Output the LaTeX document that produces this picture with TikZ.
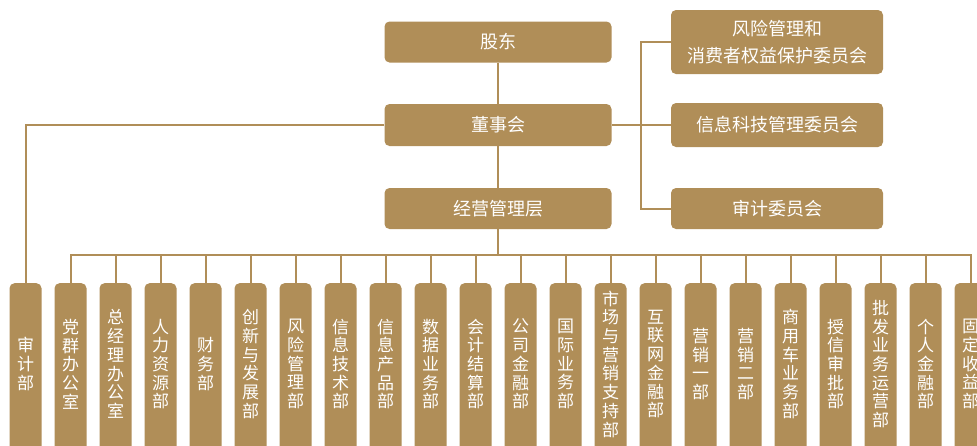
\documentclass[tikz,border=0pt]{standalone}
\usepackage{fontspec}
\newfontfamily\cjk{Noto Sans CJK SC}
\definecolor{gold}{RGB}{176,142,88}
\begin{document}
\begin{tikzpicture}[x=1pt,y=-1pt,
  box/.style={fill=gold, rounded corners=5pt, text=white, font=\cjk\fontsize{18}{27}\selectfont, align=center, inner sep=0pt},
  col/.style={fill=gold, rounded corners=5pt, minimum width=32pt, minimum height=180pt, anchor=north, inner sep=0pt},
  coltext/.style={text=white, font=\cjk\fontsize{17}{18.7}\selectfont, align=center, inner sep=0pt},
  link/.style={draw=gold, line width=2pt}]
\clip (0,0) rectangle (977,445);
\node[box, minimum width=227pt, minimum height=41pt] (gd) at (498,42) {股东};
\node[box, minimum width=227pt, minimum height=42pt] (dsh) at (498,125) {董事会};
\node[box, minimum width=227pt, minimum height=41pt] (jy) at (498,208.5) {经营管理层};
\node[box, minimum width=212pt, minimum height=64pt] (fx) at (777,42) {风险管理和\\消费者权益保护委员会};
\node[box, minimum width=212pt, minimum height=44pt] (xx) at (777,125) {信息科技管理委员会};
\node[box, minimum width=212pt, minimum height=41pt] (sj) at (777,208.5) {审计委员会};
\foreach \t [count=\i from 0] in {%
  {审\\计\\部},{党\\群\\办\\公\\室},{总\\经\\理\\办\\公\\室},{人\\力\\资\\源\\部},{财\\务\\部},
  {创\\新\\与\\发\\展\\部},{风\\险\\管\\理\\部},{信\\息\\技\\术\\部},{信\\息\\产\\品\\部},{数\\据\\业\\务\\部},
  {会\\计\\结\\算\\部},{公\\司\\金\\融\\部},{国\\际\\业\\务\\部},{市\\场\\与\\营\\销\\支\\持\\部},{互\\联\\网\\金\\融\\部},
  {营\\销\\一\\部},{营\\销\\二\\部},{商\\用\\车\\业\\务\\部},{授\\信\\审\\批\\部},{批\\发\\业\\务\\运\\营\\部},
  {个\\人\\金\\融\\部},{固\\定\\收\\益\\部}}{
  \node[col] (c\i) at ({25.5+45*\i},283) {};
  \node[coltext] (t\i) at ({25.5+45*\i},364) {\t};
}
\draw[link] (gd.south) -- (dsh.north);
\draw[link] (dsh.south) -- (jy.north);
\draw[link] (dsh.east) -- (xx.west);
\coordinate (rj) at (641,125);
\draw[link] (fx.west) -| (rj) |- (sj.west);
\draw[link] (dsh.west) -| (c0.north);
\coordinate (bus) at (498,255);
\draw[link] (jy.south) -- (bus);
\draw[link] (c1.north) |- (bus) -| (c21.north);
\foreach \i in {2,...,20} \draw[link] (c\i.north) -- (c\i.north |- bus);
\end{tikzpicture}
\end{document}
